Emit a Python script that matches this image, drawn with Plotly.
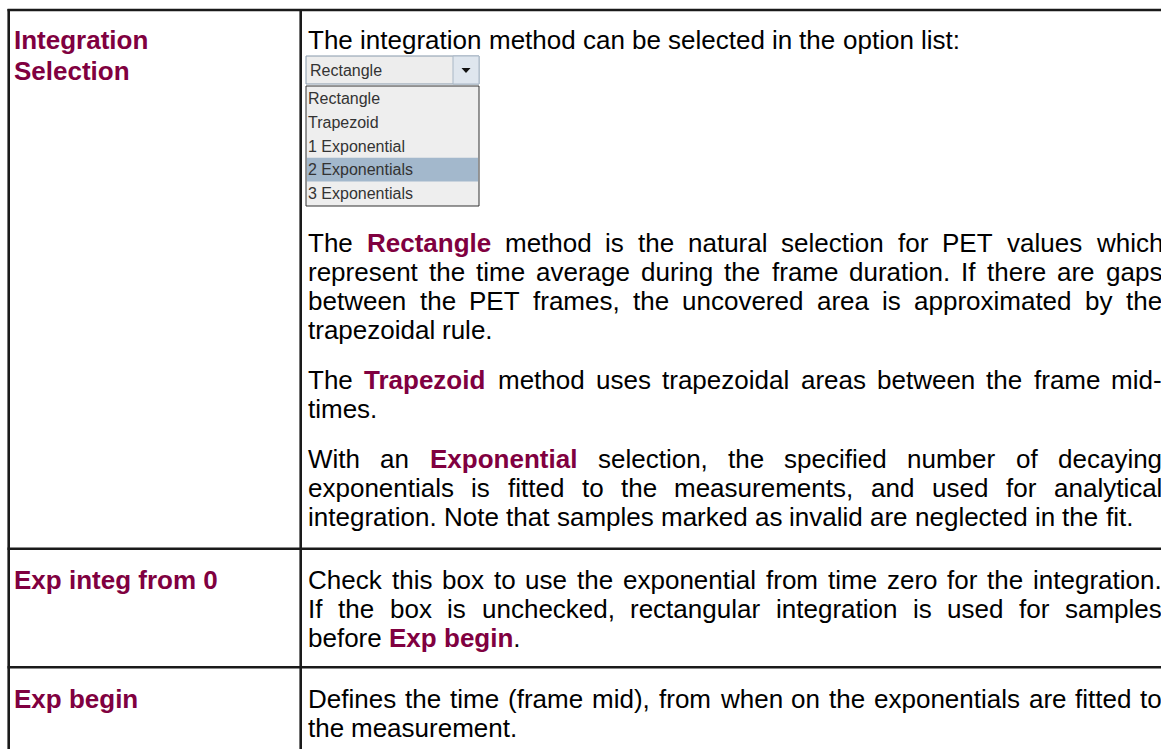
import plotly.graph_objects as go

# ---------------- content ----------------
heading_lines = [["Integration", "Selection"], ["Exp integ from 0"], ["Exp begin"]]
intro_line = "The integration method can be selected in the option list:"
combo_value = "Rectangle"
option_items = ["Rectangle", "Trapezoid", "1 Exponential", "2 Exponentials", "3 Exponentials"]
selected_index = 3

row1_paragraphs = [
    ["The **Rectangle** method is the natural selection for PET values which",
     "represent the time average during the frame duration. If there are gaps",
     "between the PET frames, the uncovered area is approximated by the",
     "trapezoidal rule."],
    ["The **Trapezoid** method uses trapezoidal areas between the frame mid-",
     "times."],
    ["With an **Exponential** selection, the specified number of decaying",
     "exponentials is fitted to the measurements, and used for analytical",
     "integration. Note that samples marked as invalid are neglected in the fit."],
]
row2_paragraphs = [
    ["Check this box to use the exponential from time zero for the integration.",
     "If the box is unchecked, rectangular integration is used for samples",
     "before **Exp begin**."],
]
row3_paragraphs = [
    ["Defines the time (frame mid), from when on the exponentials are fitted to",
     "the measurement."],
]

# ---------------- style / layout ----------------
W, H = 1161, 749
FONT = "Liberation Sans, Arial, sans-serif"
FS = 26
LH = 29
PARA_GAP = 21
ACCENT = "#800040"
TEXT_X = 308
HEAD_X = 14
RIGHT_X = 1162
BORDER = "#1a1a1a"

REG = dict(zip(" ().,-:0123456789", [278, 333, 333, 278, 278, 333, 278] + [556] * 10))
REG.update(dict(zip("ABCDEFGHIJKLMNOPQRSTUVWXYZ",
                    [667, 667, 722, 722, 667, 611, 778, 722, 278, 500, 667, 556, 833, 722, 778, 667,
                     778, 722, 667, 611, 722, 667, 944, 667, 667, 611])))
REG.update(dict(zip("abcdefghijklmnopqrstuvwxyz",
                    [556, 556, 500, 556, 556, 278, 556, 556, 222, 222, 500, 222, 833, 556, 556, 556,
                     556, 333, 500, 278, 556, 500, 722, 500, 500, 500])))
BOLD = dict(zip(" ().,-:0123456789", [278, 333, 333, 278, 278, 333, 333] + [556] * 10))
BOLD.update(dict(zip("ABCDEFGHIJKLMNOPQRSTUVWXYZ",
                     [722, 722, 722, 722, 667, 611, 778, 722, 278, 556, 722, 611, 833, 722, 778, 667,
                      778, 722, 667, 611, 722, 667, 944, 667, 667, 611])))
BOLD.update(dict(zip("abcdefghijklmnopqrstuvwxyz",
                     [556, 611, 556, 611, 556, 333, 611, 611, 278, 278, 556, 278, 889, 611, 611, 611,
                      611, 389, 556, 333, 611, 556, 778, 556, 556, 500])))

fig = go.Figure()
annotations = []


def parse_words(line):
    chars = []
    bold = False
    i = 0
    while i < len(line):
        if line[i:i + 2] == "**":
            bold = not bold
            i += 2
            continue
        chars.append((line[i], bold))
        i += 1
    words, cur = [], []
    for c, b in chars:
        if c == " ":
            if cur:
                words.append(cur)
            cur = []
        else:
            cur.append((c, b))
    if cur:
        words.append(cur)
    return words


def word_html(word):
    runs = []
    for c, b in word:
        if runs and runs[-1][1] == b:
            runs[-1][0] += c
        else:
            runs.append([c, b])
    out = ""
    for t, b in runs:
        if b:
            out += "<span style='color:%s'><b>%s</b></span>" % (ACCENT, t)
        else:
            out += t
    return out


def word_width(word):
    return sum((BOLD if b else REG).get(c, 556) for c, b in word) * FS / 1000.0


def add_text(text, x, ymid, size=FS, color="black"):
    annotations.append(dict(x=x, y=ymid, xref="x", yref="y", text=text, showarrow=False,
                            xanchor="left", yanchor="middle", borderpad=0, borderwidth=0,
                            font=dict(family=FONT, size=size, color=color)))


def add_line(line, baseline, justify):
    words = parse_words(line)
    widths = [word_width(w) for w in words]
    space = 278 * FS / 1000.0
    if justify and len(words) > 1:
        gap = (RIGHT_X - TEXT_X - sum(widths)) / (len(words) - 1)
    else:
        gap = space
    x = TEXT_X
    ymid = baseline - 0.3465 * FS
    for w, wd in zip(words, widths):
        add_text(word_html(w), x, ymid)
        x += wd + gap


def add_paragraphs(paragraphs, first_baseline):
    b = first_baseline
    for p in paragraphs:
        for k, line in enumerate(p):
            add_line(line, b, justify=(k < len(p) - 1))
            b += LH
        b += PARA_GAP


# headings
head_baselines = [49, 589, 708]
for lines, b0 in zip(heading_lines, head_baselines):
    for k, t in enumerate(lines):
        add_text("<b>%s</b>" % t, HEAD_X, b0 + k * 31 - 0.3465 * FS, color=ACCENT)

# body text
add_line(intro_line, 49, False)
add_paragraphs(row1_paragraphs, 252)
add_paragraphs(row2_paragraphs, 589)
add_paragraphs(row3_paragraphs, 708)

# ---------------- dropdown widget ----------------
shapes = []
CX0, CX1 = 306, 479
shapes.append(dict(type="rect", x0=CX0, x1=CX1, y0=56, y1=84, fillcolor="#ededed",
                   line=dict(color="#8799ab", width=1)))
shapes.append(dict(type="rect", x0=453, x1=CX1, y0=56, y1=84, fillcolor="#dfe6ee",
                   line=dict(color="#a9b7c6", width=1)))
shapes.append(dict(type="path", path="M 461.5 68 L 470.5 68 L 466 73 Z", fillcolor="#111111",
                   line=dict(width=0)))
add_text(combo_value, 310, 70, size=16, color="#333333")

LIST_TOP, ITEM_H = 86, 23.6
list_bottom = LIST_TOP + ITEM_H * len(option_items) + 2
shapes.append(dict(type="rect", x0=CX0, x1=CX1, y0=LIST_TOP, y1=list_bottom, fillcolor="#eeeeee",
                   line=dict(color="#333333", width=1)))
shapes.append(dict(type="rect", x0=CX0 + 1, x1=CX1 - 1,
                   y0=LIST_TOP + 1 + ITEM_H * selected_index,
                   y1=LIST_TOP + 1 + ITEM_H * (selected_index + 1),
                   fillcolor="#a3b8cc", line=dict(width=0)))
for i, item in enumerate(option_items):
    add_text(item, 308, LIST_TOP + 1 + ITEM_H * (i + 0.5), size=16, color="#333333")

# ---------------- table borders ----------------
bw = 2.6
shapes += [
    dict(type="line", x0=7.5, x1=W + 10, y0=10, y1=10, line=dict(color=BORDER, width=bw)),
    dict(type="line", x0=8.7, x1=8.7, y0=9, y1=H + 10, line=dict(color=BORDER, width=bw)),
    dict(type="line", x0=300.7, x1=300.7, y0=9, y1=H + 10, line=dict(color=BORDER, width=bw)),
    dict(type="line", x0=7.5, x1=W + 10, y0=548.8, y1=548.8, line=dict(color=BORDER, width=bw)),
    dict(type="line", x0=7.5, x1=W + 10, y0=667.2, y1=667.2, line=dict(color=BORDER, width=bw)),
]

fig.update_layout(
    width=W, height=H,
    margin=dict(l=0, r=0, t=0, b=0, pad=0),
    paper_bgcolor="white", plot_bgcolor="white",
    xaxis=dict(range=[0, W], visible=False, fixedrange=True),
    yaxis=dict(range=[H, 0], visible=False, fixedrange=True),
    showlegend=False,
    shapes=shapes,
    annotations=annotations,
)

fig.write_html("out.html", include_plotlyjs=True, config={"displayModeBar": False},
               post_script="document.body.style.margin='0';document.body.style.overflow='hidden';")
